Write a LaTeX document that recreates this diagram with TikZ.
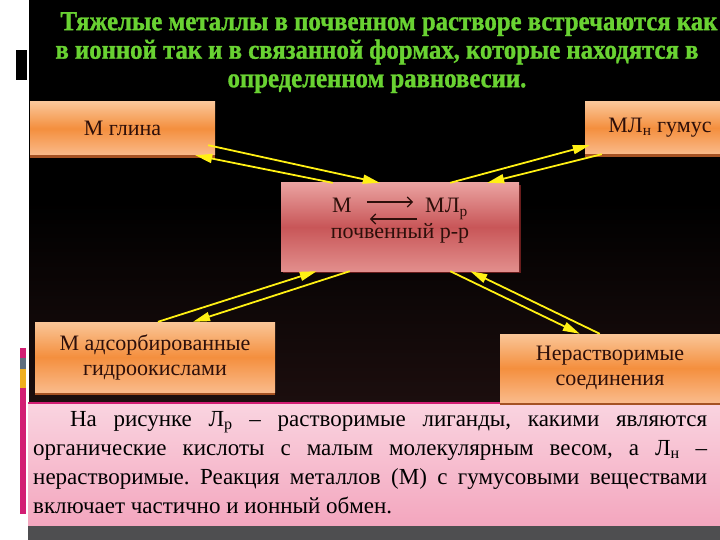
\documentclass[tikz,border=0pt]{standalone}
\usepackage{fontspec}
\setmainfont{LiberationSerif}[Extension=.ttf, UprightFont=*-Regular, BoldFont=*-Bold, ItalicFont=*-Italic, BoldItalicFont=*-BoldItalic]
\newfontfamily\titlefont{LiberationSerif}[Extension=.ttf, UprightFont=*-Bold, FakeStretch=0.9, FakeBold=1.2]
\usetikzlibrary{arrows.meta,shadows}
\frenchspacing

\definecolor{titlegreen}{RGB}{105,210,50}
\definecolor{labeltext}{RGB}{45,15,10}
\definecolor{boxtop}{RGB}{250,198,152}
\definecolor{boxmid}{RGB}{244,143,62}
\definecolor{boxbot}{RGB}{250,186,138}
\definecolor{boxedge}{RGB}{165,82,35}
\definecolor{redtop}{RGB}{234,162,160}
\definecolor{redmid}{RGB}{200,86,88}
\definecolor{redbot}{RGB}{226,142,140}
\definecolor{rededge}{RGB}{105,28,28}
\definecolor{flowyellow}{RGB}{255,240,20}
\definecolor{slidebot}{RGB}{28,14,14}
\definecolor{paneltop}{RGB}{250,212,224}
\definecolor{panelbot}{RGB}{243,166,190}
\definecolor{panelmag}{RGB}{210,30,115}
\definecolor{bargray}{RGB}{95,110,125}
\definecolor{bargold}{RGB}{240,175,30}
\definecolor{bandgray}{RGB}{78,78,80}

\begin{document}
\begin{tikzpicture}[x=1pt,y=-1pt,
  orangebox/.style={rectangle, inner sep=0pt, align=center, text=labeltext,
    font=\fontsize{22}{25}\selectfont,
    top color=boxtop, bottom color=boxbot, middle color=boxmid,
    drop shadow={shadow xshift=0pt, shadow yshift=-3pt, fill=boxedge, opacity=1}},
  redbox/.style={rectangle, inner sep=0pt,
    top color=redtop, bottom color=redbot, middle color=redmid,
    drop shadow={shadow xshift=2pt, shadow yshift=-2pt, fill=rededge, opacity=1}},
  flow/.style={draw=flowyellow, line width=1.8pt, -{Triangle[length=17pt,width=9pt]}},
  eqarrow/.style={draw=labeltext, line width=1.1pt, -{Straight Barb[length=5pt,width=10pt]}}]
\useasboundingbox (0,0) rectangle (720,540);
\clip (0,0) rectangle (720,540);

% slide background
\fill[white] (0,0) rectangle (720,540);
\shade[top color=black, bottom color=slidebot, middle color=black] (29,0) rectangle (720,403);
\fill[black] (16,50) rectangle (27,80);
\foreach \ya/\yb/\c in {348/358/panelmag, 358/369/bargray, 369/388/bargold, 388/514/panelmag}
{
	\fill[\c] (20,\ya) rectangle (26,\yb);
}
\shade[top color=paneltop, bottom color=panelbot] (28,403) rectangle (720,526);
\draw[panelmag, line width=1.2pt] (28,403) -- (720,403);
\fill[bandgray] (28,526) rectangle (720,540);

% title
\node[anchor=north, inner sep=0pt, align=center, text=titlegreen,
  font=\titlefont\fontsize{27.5}{28.5}\selectfont] (title) at (377,12)
  {\hspace*{24pt}Тяжелые металлы в почвенном растворе встречаются как\\
   в ионной так и в связанной формах, которые находятся в\\
   определенном равновесии.};

% boxes
\node[orangebox, minimum width=185pt, minimum height=53pt] (glina) at (122.5,128.5) {М глина};
\node[orangebox, minimum width=150pt, minimum height=52pt] (gumus) at (660,128) {МЛ\textsubscript{н} гумус};
\node[orangebox, minimum width=240pt, minimum height=70pt] (adsorb) at (155,357)
  {М адсорбированные\\ гидроокислами};
\node[orangebox, minimum width=220pt, minimum height=68pt] (nerast) at (610,368)
  {Нерастворимые\\ соединения};
\node[redbox, minimum width=238pt, minimum height=88pt] (rast) at (400,227) {};

% inside the solution box
\node[anchor=base, inner sep=0pt, text=labeltext, font=\fontsize{22}{25}\selectfont] (m) at (342,213) {М};
\node[anchor=base west, inner sep=0pt, text=labeltext, font=\fontsize{22}{25}\selectfont] (mlr) at (425,213) {МЛ\textsubscript{р}};
\node[anchor=base, inner sep=0pt, text=labeltext, font=\fontsize{22}{25}\selectfont] (soil) at (400,239) {почвенный р-р};
\draw[eqarrow] ([xshift=15pt,yshift=11pt]m.base east) -- ([xshift=-12pt,yshift=11pt]mlr.base west);
\draw[eqarrow] ([xshift=-8pt,yshift=-6pt]mlr.base west) -- ([xshift=18pt,yshift=-6pt]m.base east);

% exchange arrows
\draw[flow] ([xshift=-7pt,yshift=10pt]glina.south east) -- ([xshift=99pt]rast.north west);
\draw[flow] ([xshift=52pt]rast.north west) -- ([xshift=-20pt]glina.south east);
\draw[flow] ([xshift=-69pt]rast.north east) -- ([xshift=5pt,yshift=9pt]gumus.south west);
\draw[flow] ([xshift=17pt]gumus.south west) -- ([xshift=-32pt]rast.north east);
\draw[flow] ([xshift=3pt]adsorb.north) -- ([xshift=36pt]rast.south west);
\draw[flow] ([xshift=69pt]rast.south west) -- ([xshift=38pt]adsorb.north);
\draw[flow] ([xshift=-69pt]rast.south east) -- ([xshift=80pt]nerast.north west);
\draw[flow] ([xshift=100pt]nerast.north west) -- ([xshift=-49pt]rast.south east);

% note below
\node[anchor=north west, inner sep=0pt, text width=674pt, align=justify, text=black,
  font=\fontsize{23}{29}\selectfont] (note) at (33,411)
  {\hspace*{1.6em}На рисунке Л\textsubscript{р} – растворимые лиганды, какими являются\linebreak
   органические кислоты с малым молекулярным весом, а Л\textsubscript{н} –\linebreak
   нерастворимые. Реакция металлов (М) с гумусовыми веществами\linebreak
   включает частично и ионный обмен.};
\end{tikzpicture}
\end{document}
